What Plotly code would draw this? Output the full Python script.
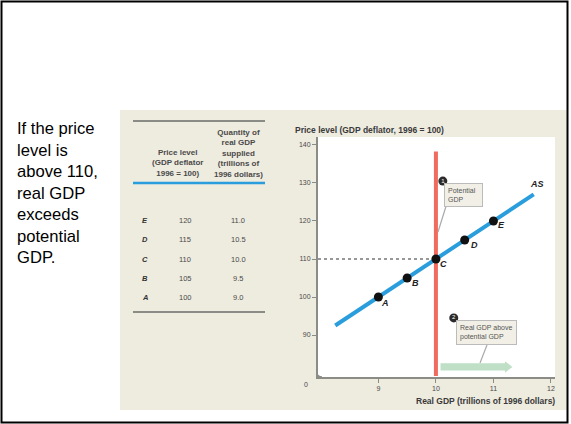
import plotly.graph_objects as go

# ---- data ----
points = ["A", "B", "C", "D", "E"]
price_level = [100, 105, 110, 115, 120]          # GDP deflator, 1996 = 100
real_gdp_supplied = [9.0, 9.5, 10.0, 10.5, 11.0]  # trillions of 1996 dollars
potential_gdp = 10.0
as_q = [8.25, 11.7]                                 # ends of the AS curve
as_p = [92.5, 127.0]
x_ticks = [9, 10, 11, 12]
y_ticks = [90, 100, 110, 120, 130, 140]

W, H = 571, 424


def px(x):
    return x / W


def py(y):
    return 1 - y / H


X0, X1 = 318, 555      # plot area in pixels
Y0, Y1 = 137, 377
XR = [7.95, 12.07]
YR = [78.95, 142.1]

small = dict(family="Liberation Sans", size=7, color="#4a4a4a")
head = dict(family="Liberation Sans", size=8, color="#4a4a4a")
title = dict(family="Liberation Sans", size=8.5, color="#3a3a3a")
grey = "#8c8c86"
blue = "#2a9ddc"
red = "#f06a5e"

fig = go.Figure()

# dotted guide at the potential-GDP price level
fig.add_trace(go.Scatter(x=[XR[0], potential_gdp], y=[price_level[2]] * 2, mode="lines",
                         line=dict(color="#777", width=1.5, dash="dot"), hoverinfo="skip"))
# potential GDP
fig.add_trace(go.Scatter(x=[potential_gdp, potential_gdp], y=[79.2, 138.3], mode="lines",
                         line=dict(color=red, width=4), hoverinfo="skip"))
# aggregate supply
fig.add_trace(go.Scatter(x=as_q, y=as_p, mode="lines",
                         line=dict(color=blue, width=4), hoverinfo="skip"))
fig.add_trace(go.Scatter(x=real_gdp_supplied, y=price_level, mode="markers",
                         marker=dict(color="#111", size=9), hoverinfo="skip"))

# numbered callout bullets
fig.add_trace(go.Scatter(x=[10.12, 10.31], y=[130.5, 94.5], mode="markers+text",
                         text=["1", "2"], textposition="middle center",
                         textfont=dict(family="Liberation Sans", size=6, color="white"),
                         marker=dict(color="#2b2b2b", size=9), hoverinfo="skip"))

# green arrow: real GDP moving above potential
ay, sh, hh = 81.6, 0.95, 1.5
arrow_path = (f"M 10.08 {ay - sh} L 11.2 {ay - sh} L 11.2 {ay - hh} L 11.33 {ay} "
              f"L 11.2 {ay + hh} L 11.2 {ay + sh} L 10.08 {ay + sh} Z")

shapes = [
    # beige panel and white plot area
    dict(type="rect", xref="paper", yref="paper", x0=px(120), x1=px(567), y0=py(410), y1=py(110),
         fillcolor="#eeebdf", line=dict(width=0), layer="below"),
    dict(type="rect", xref="paper", yref="paper", x0=px(X0), x1=px(X1), y0=py(Y1), y1=py(Y0),
         fillcolor="white", line=dict(width=0), layer="below"),
    dict(type="path", xref="x", yref="y", path=arrow_path, fillcolor="#bfe0c6",
         line=dict(width=0), layer="below"),
    # table rules
    dict(type="line", xref="paper", yref="paper", x0=px(133), x1=px(265), y0=py(121), y1=py(121),
         line=dict(color=grey, width=2)),
    dict(type="line", xref="paper", yref="paper", x0=px(133), x1=px(265), y0=py(183), y1=py(183),
         line=dict(color=blue, width=2.5)),
    dict(type="line", xref="paper", yref="paper", x0=px(133), x1=px(265), y0=py(312), y1=py(312),
         line=dict(color=grey, width=2)),
    # callout leader lines
    dict(type="line", xref="paper", yref="paper", x0=px(447), x1=px(438), y0=py(203), y1=py(232),
         line=dict(color="#aaa", width=1.2)),
    dict(type="line", xref="paper", yref="paper", x0=px(487), x1=px(480), y0=py(345), y1=py(363),
         line=dict(color="#aaa", width=1.2)),
    # axis break at the origin
    dict(type="path", xref="paper", yref="paper",
         path=f"M {px(317)} {py(369)} L {px(317)} {py(374)} Q {px(318)} {py(377)} {px(322)} {py(377)}",
         line=dict(color=grey, width=1.5)),
    # outer frame
    dict(type="rect", xref="paper", yref="paper", x0=px(1.5), x1=px(567.5), y0=py(422.5), y1=py(1.5),
         line=dict(color="black", width=2), fillcolor="rgba(0,0,0,0)"),
]

ann = []
# left-hand statement
ann.append(dict(xref="paper", yref="paper", x=px(15), y=py(193), xanchor="left", yanchor="middle",
                align="left", showarrow=False,
                text="If the price<br>level is<br>above 110,<br>real GDP<br>exceeds<br>potential<br>GDP.",
                font=dict(family="Liberation Sans", size=16.6, color="black")))

# table headers
ann.append(dict(xref="paper", yref="paper", x=px(177), y=py(163), xanchor="center", yanchor="middle",
                showarrow=False, text="<b>Price level<br>(GDP deflator<br>1996 = 100)</b>",
                font=head, align="center"))
ann.append(dict(xref="paper", yref="paper", x=px(238), y=py(153), xanchor="center", yanchor="middle",
                showarrow=False,
                text="<b>Quantity of<br>real GDP<br>supplied<br>(trillions of<br>1996 dollars)</b>",
                font=head, align="center"))
# table rows, aligned with the price levels on the graph
for name, p, q in zip(points, price_level, real_gdp_supplied):
    ann.append(dict(xref="paper", yref="y", x=px(140), y=p, showarrow=False, text=f"<b><i>{name}</i></b>",
                    font=dict(family="Liberation Sans", size=7.5, color="#333")))
    ann.append(dict(xref="paper", yref="y", x=px(177), y=p, showarrow=False, text=f"{p}",
                    font=dict(small, size=7.5)))
    ann.append(dict(xref="paper", yref="y", x=px(238), y=p, showarrow=False, text=f"{q:.1f}",
                    font=dict(small, size=7.5)))

# point labels
offsets = {"A": (7, -6), "B": (8, -5), "C": (8, -5), "D": (10, -5), "E": (8, -4)}
for name, p, q in zip(points, price_level, real_gdp_supplied):
    dx, dy = offsets[name]
    ann.append(dict(x=q, y=p, xshift=dx, yshift=dy, showarrow=False, text=f"<b><i>{name}</i></b>",
                    font=dict(family="Liberation Sans", size=9, color="#222")))
ann.append(dict(x=as_q[1], y=as_p[1], xshift=3, yshift=10, showarrow=False, text="<b><i>AS</i></b>",
                font=dict(family="Liberation Sans", size=9, color="#222")))

# callout boxes
ann.append(dict(xref="paper", yref="paper", x=px(444), y=py(183), xanchor="left", yanchor="top",
                showarrow=False, text="Potential  <br>GDP", align="left",
                font=dict(family="Liberation Sans", size=7, color="#555"),
                bgcolor="#f2f0e6", bordercolor="#bbb", borderwidth=1, borderpad=3))
ann.append(dict(xref="paper", yref="paper", x=px(456), y=py(320), xanchor="left", yanchor="top",
                showarrow=False, text="Real GDP above<br>potential GDP", align="left",
                font=dict(family="Liberation Sans", size=7, color="#555"),
                bgcolor="#f2f0e6", bordercolor="#bbb", borderwidth=1, borderpad=3))

# axis titles and origin label
ann.append(dict(xref="paper", yref="paper", x=px(293), y=py(130), xanchor="left", yanchor="middle",
                showarrow=False, text="<b>Price level (GDP deflator, 1996 = 100)</b>", font=title))
ann.append(dict(xref="paper", yref="paper", x=px(557), y=py(401), xanchor="right", yanchor="middle",
                showarrow=False, text="<b>Real GDP (trillions of 1996 dollars)</b>", font=title))
ann.append(dict(xref="paper", yref="paper", x=px(306), y=py(390), showarrow=False, text="0", font=small))

fig.update_layout(
    width=W, height=H, margin=dict(l=0, r=0, t=0, b=0),
    paper_bgcolor="white", plot_bgcolor="rgba(0,0,0,0)", showlegend=False,
    shapes=shapes, annotations=ann,
    xaxis=dict(domain=[px(X0), px(X1)], range=XR, tickvals=x_ticks, showgrid=False, zeroline=False,
               showline=True, linecolor=grey, linewidth=2, ticks="outside", ticklen=4, tickcolor=grey,
               tickfont=small),
    yaxis=dict(domain=[py(Y1), py(Y0)], range=YR, tickvals=y_ticks, showgrid=False, zeroline=False,
               showline=True, linecolor=grey, linewidth=2, ticks="outside", ticklen=4, tickcolor=grey,
               tickfont=small),
)

fig.write_html("out.html")
